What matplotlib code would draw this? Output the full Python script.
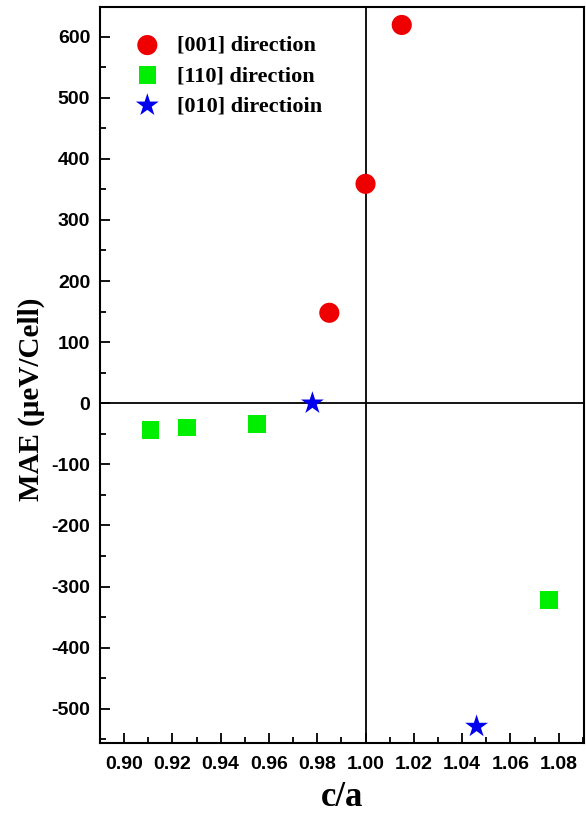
import matplotlib
matplotlib.use("Agg")
import matplotlib.pyplot as plt
from matplotlib.ticker import MultipleLocator

plt.rcParams["axes.unicode_minus"] = False

# Data
ca_001 = [0.985, 1.000, 1.015]
mae_001 = [148, 359, 619]
ca_110 = [0.911, 0.926, 0.955, 1.076]
mae_110 = [-44, -40, -34, -322]
ca_010 = [0.978, 1.046]
mae_010 = [0, -529]
labels = ["[001] direction", "[110] direction", "[010] directioin"]

fig = plt.figure(figsize=(5.86, 8.13), dpi=100)
ax = fig.add_axes([0.1706, 0.0861, 0.826, 0.905])

ax.axhline(0, color="black", lw=1.3, zorder=1)
ax.axvline(1.0, color="black", lw=1.3, zorder=1)

ax.scatter(ca_001, mae_001, s=210, marker="o", color="#ee0000", edgecolors="none", label=labels[0], zorder=3)
ax.scatter(ca_110, mae_110, s=160, marker="s", color="#00ee00", edgecolors="none", label=labels[1], zorder=3)
ax.scatter(ca_010, mae_010, s=300, marker="*", color="#0000ee", edgecolors="none", label=labels[2], zorder=3)

ax.set_xlim(0.89, 1.0905)
ax.set_ylim(-556, 648)
ax.xaxis.set_major_locator(MultipleLocator(0.02))
ax.xaxis.set_minor_locator(MultipleLocator(0.01))
ax.yaxis.set_major_locator(MultipleLocator(100))
ax.yaxis.set_minor_locator(MultipleLocator(50))
ax.xaxis.set_major_formatter(matplotlib.ticker.FormatStrFormatter("%.2f"))

ax.tick_params(which="both", direction="in", top=False, right=False, width=1.3)
ax.tick_params(which="major", length=7, labelsize=14)
ax.tick_params(axis="x", which="major", pad=9)
ax.tick_params(axis="y", which="major", pad=7)
ax.tick_params(which="minor", length=4)
for lab in ax.get_xticklabels() + ax.get_yticklabels():
    lab.set_fontfamily("Liberation Sans")
    lab.set_fontweight("bold")
for sp in ax.spines.values():
    sp.set_linewidth(1.5)

ax.set_xlabel("c/a", fontfamily="Liberation Serif", fontweight="bold", fontsize=25, labelpad=6)
ax.set_ylabel("MAE (μeV/Cell)", fontfamily="Liberation Serif", fontweight="bold", fontsize=21)
ax.yaxis.set_label_coords(-0.114, 0.467)

leg = ax.legend(loc="upper left", frameon=False, bbox_to_anchor=(0.006, 0.992),
                prop={"family": "Liberation Serif", "weight": "bold", "size": 16},
                handletextpad=0.35, labelspacing=0.43, borderaxespad=0.6)

fig.savefig("out.png", dpi=100)
